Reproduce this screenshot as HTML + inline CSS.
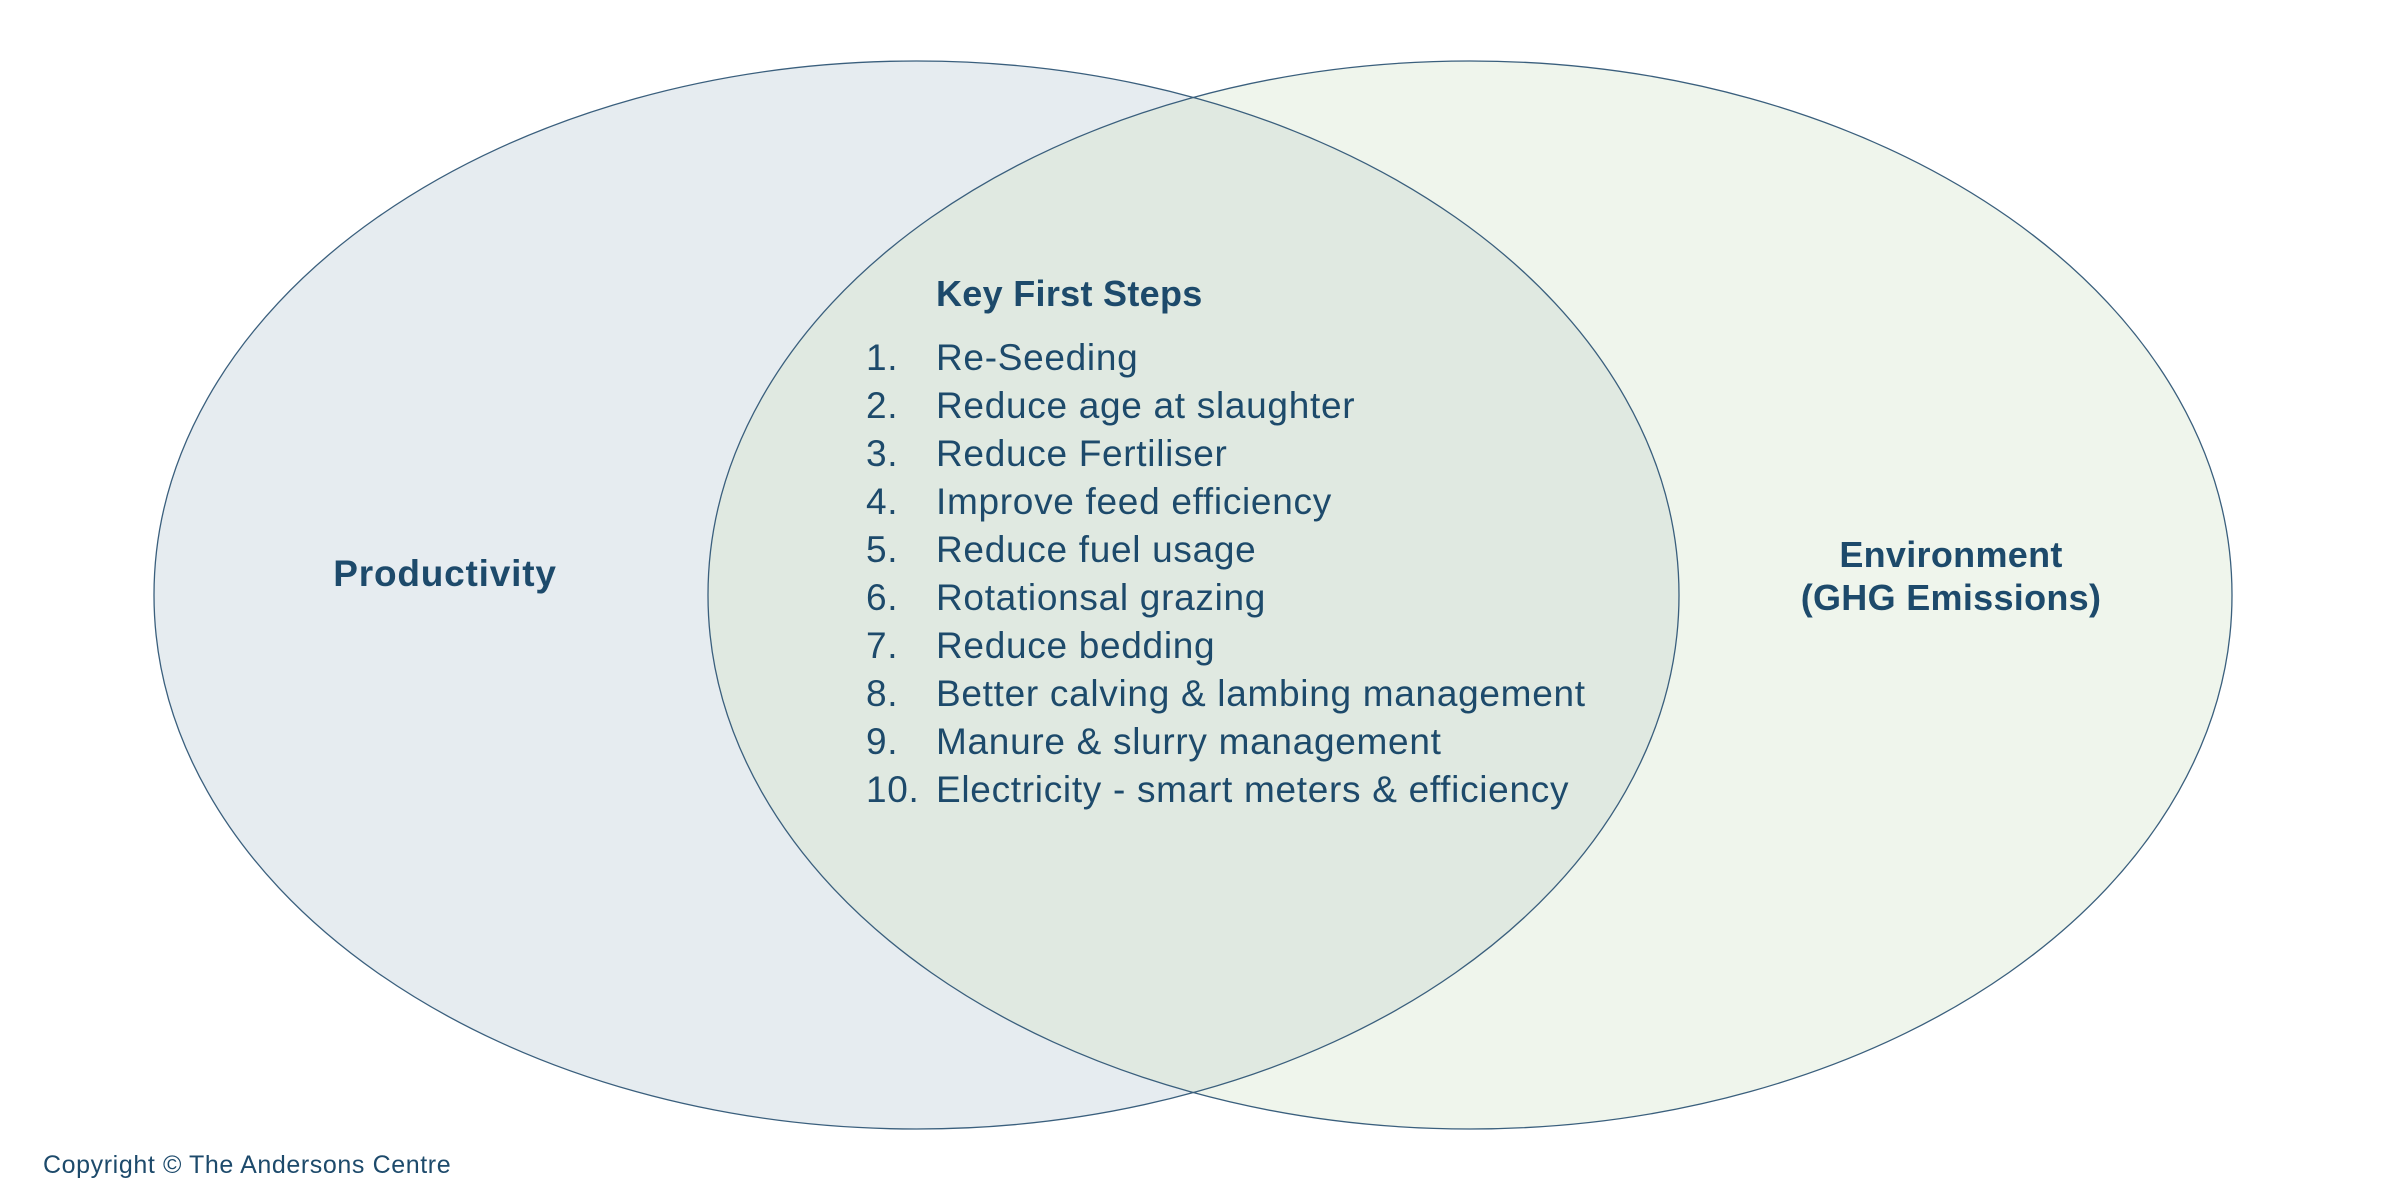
<!DOCTYPE html>
<html><head><meta charset="utf-8"><style>
html,body{margin:0;padding:0;background:#fff;}
svg{display:block;}
text{font-family:"Liberation Sans",sans-serif;fill:#1d4a6b;}
</style></head><body>
<svg width="2400" height="1200" viewBox="0 0 2400 1200" xmlns="http://www.w3.org/2000/svg">
<defs>
<clipPath id="cl"><ellipse cx="916.5" cy="595" rx="762.5" ry="534"/></clipPath>
</defs>
<ellipse cx="916.5" cy="595" rx="762.5" ry="534" fill="#e6ecf0"/>
<ellipse cx="1470" cy="595" rx="762" ry="534" fill="#eff5ec"/>
<ellipse cx="1470" cy="595" rx="762" ry="534" fill="#e0e9e1" clip-path="url(#cl)"/>
<ellipse cx="916.5" cy="595" rx="762.5" ry="534" fill="none" stroke="#3a5f7d" stroke-width="1.3"/>
<ellipse cx="1470" cy="595" rx="762" ry="534" fill="none" stroke="#3a5f7d" stroke-width="1.3"/>
<text x="936" y="306" font-size="36" font-weight="bold" letter-spacing="0.3">Key First Steps</text>
<g font-size="37" letter-spacing="0.7">
<text x="866" y="370">1.</text><text x="936" y="370">Re-Seeding</text>
<text x="866" y="418">2.</text><text x="936" y="418">Reduce age at slaughter</text>
<text x="866" y="466">3.</text><text x="936" y="466">Reduce Fertiliser</text>
<text x="866" y="514">4.</text><text x="936" y="514">Improve feed efficiency</text>
<text x="866" y="562">5.</text><text x="936" y="562">Reduce fuel usage</text>
<text x="866" y="610">6.</text><text x="936" y="610">Rotationsal grazing</text>
<text x="866" y="658">7.</text><text x="936" y="658">Reduce bedding</text>
<text x="866" y="706">8.</text><text x="936" y="706">Better calving &amp; lambing management</text>
<text x="866" y="754">9.</text><text x="936" y="754">Manure &amp; slurry management</text>
<text x="866" y="802">10.</text><text x="936" y="802">Electricity - smart meters &amp; efficiency</text>
</g>
<text x="445" y="586" font-size="37" font-weight="bold" text-anchor="middle" letter-spacing="0.8">Productivity</text>
<text x="1951" y="567" font-size="36" font-weight="bold" text-anchor="middle" letter-spacing="0.3">Environment</text>
<text x="1951" y="610" font-size="36" font-weight="bold" text-anchor="middle" letter-spacing="0.3">(GHG Emissions)</text>
<text x="43" y="1173" font-size="25" letter-spacing="0.6">Copyright © The Andersons Centre</text>
</svg>
</body></html>
